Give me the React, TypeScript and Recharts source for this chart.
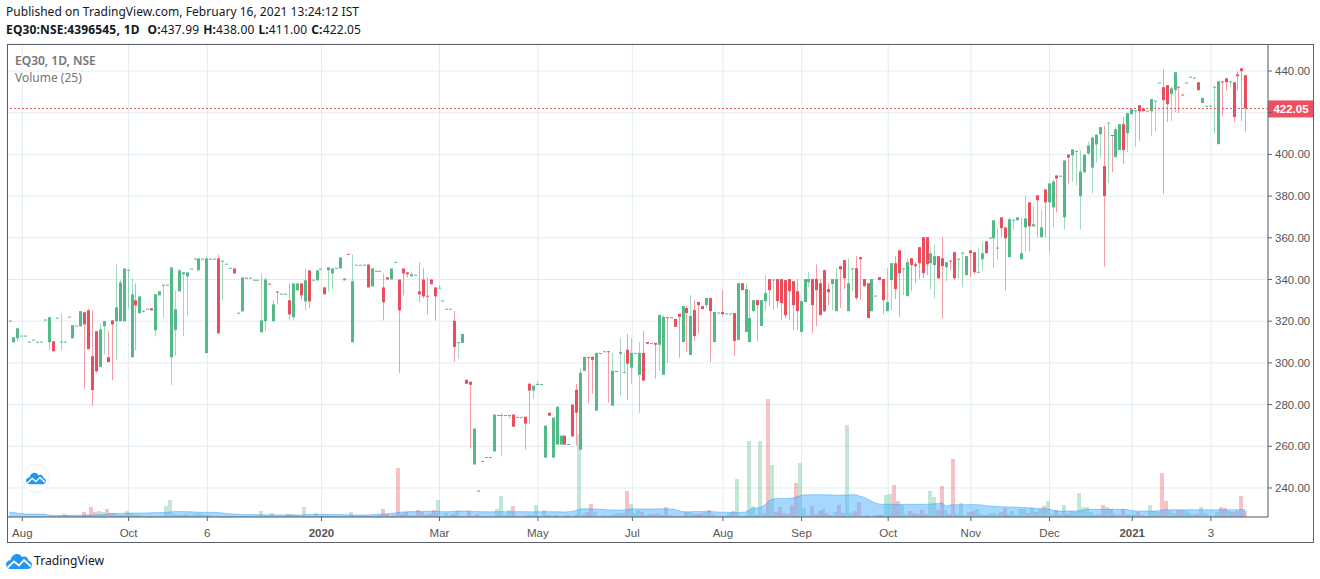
import React from "react";
import { ComposedChart, Bar, Area, XAxis, YAxis, CartesianGrid, ReferenceLine } from "recharts";

const opens = [
320.3,309.9,311.8,313.1,313.1,310.2,311.2,310.2,310.2,320.8,
309.9,310.4,321.7,310.2,310.2,322.2,311.8,317.9,317.6,324.3,
325.2,303.2,315.2,298,317.6,302.7,320.4,320,320,320,
344.7,302.7,330,323.8,325.1,326,326.2,315.7,332.4,337.5,
337.5,302.7,315.7,334.3,342.5,341.5,345.2,350,344.4,350,
304.7,350,350,350.1,349,347.6,345.6,345.3,324.1,324.8,
340.9,340.9,339.9,339.9,314.7,320,338,320,334.2,333.2,
333.2,330,321.9,334.8,338.1,329.5,344.4,339.9,339.6,345.2,
336.2,344.4,342.9,345.6,345.3,339.6,352.3,309.9,347.1,347.1,
347.1,347.2,336.7,344.2,344.2,336.2,341,340,348.5,340,
345.3,343.4,341.5,342.3,334.3,340,332.2,340,336.2,336.1,
329.9,326,326,320.2,310,309.6,291.9,291,251.3,238.8,
253,254.9,254.9,257.5,275,275,275,275,275.2,274.1,
274.1,274.2,290,286.7,289.9,289.9,254.6,276.1,254.6,260.8,
260.8,265.1,261.1,280,287.1,258.4,296.2,302.8,302.9,277.1,
304.7,305.6,305.6,279.5,296.1,304.4,295.6,306.3,297.7,304.7,
294.3,304.8,310,309.5,309.6,308.7,294.3,321.9,321.9,321.1,
323.5,310,326.3,303.8,325.3,329.2,327.2,327.7,331.1,310,
324.2,324.4,323.7,323.7,323.9,311,338.2,314.8,310,324.8,
330.1,317.7,329.6,340.2,340,340.2,340.2,339.7,340.2,339.2,
334.4,314.8,329.2,338.7,340.2,340.2,338.2,344.5,335.4,337.8,
324.8,346.4,349.3,324.8,345.3,345.4,350.7,340.2,338.2,324.8,
332.3,341.1,340.2,324.8,339.7,347.8,354,345.3,332,350.2,
347.3,355.5,360.3,360.3,347.8,346.9,351.2,350.2,345.9,349.1,
353.1,350,352.9,342.1,354,353.1,343.7,349.7,358.3,360.1,
359.8,355.3,369.8,365,350.7,368.7,368.4,349.7,365,377,
365.5,380.4,360.3,383.2,377,374.6,389.9,389.8,369.8,399.9,
399.5,401.7,379.9,391.4,400.4,393.7,404.8,409.7,394.4,415.3,
409.3,398.7,402.1,414.5,410.2,419.3,421.2,423.6,422,421,
420.7,425.8,434.5,432.2,433.2,428.9,430.8,432.5,428.7,434.5,
437.3,436.8,434.6,424.6,423.4,423.4,432.5,404.9,435,436.5,
435,434.6,438.4,441.3,437.99];

const closes = [
320.3,312.3,316.6,313.1,313.1,310.2,311.2,310.2,310.2,320.8,
321.9,305.6,321.7,310.2,310.2,322.2,318.1,317.9,324.8,318.5,
306.6,287,296,316.1,320,300.4,318.5,326.7,338.6,345.3,
344.7,332.9,327.6,331.9,325.1,326,325.2,332.9,334.3,337.5,
337.5,345.8,325.7,344.4,343.4,343.4,345.2,350,350.1,350,
350.1,350,350,314.2,349,347.6,345.6,342.9,324.1,341,
340.8,340.9,339.9,339.9,320.4,340,337.9,328.1,334.1,333.2,
333.2,323.3,338.1,338.1,332.4,339.6,329.5,339.9,344.4,345.2,
332.9,345.8,345.3,345.6,350.6,340.5,352.2,339.1,347.1,347.1,
347.1,336.2,345.3,344.2,344.2,329.1,340,345.3,348.5,325.2,
342.9,342.5,342.5,342.3,332.9,331.9,332.1,337.7,331.9,336.1,
329.9,326,326,307.7,310,313.9,290,289.5,268.5,238.7,
253,254.9,254.9,275.2,275,275,275,275,269.4,274.1,
274.1,270.9,286.7,289.1,289.9,289.9,269.9,274.7,273.7,279,
265.1,260.8,261.1,264.7,276.1,295.3,302.9,302.7,301.5,304.8,
304.7,305.6,305.5,296.2,296.1,305.3,295.6,299.6,304.8,304.7,
304.8,291.5,309.2,309.5,308.7,323,322.1,321.8,321.9,317.3,
322.1,327.2,323.9,322.5,312.9,327.7,325.8,331.1,324.8,324.4,
324.2,323.4,323.7,323.7,310.5,338.2,334.9,335.4,321.5,330.1,
327.7,330.1,333.5,334.9,340,329.6,328.7,322.9,334.4,327.7,
324.8,329.6,340.2,340.2,327.7,334.9,322.9,324.8,333.9,340.2,
340.2,344.9,340.6,338.2,345.3,331.1,349.7,336.8,321.5,340.2,
332.3,339.7,330.1,329.2,347.8,335.4,343,345.3,348.3,346.9,
346.4,347.8,343,347.3,352.6,351.2,340.6,346.4,348.3,349,
340.6,350,352.9,351.2,352.6,343.5,343.7,352.6,352.6,360.1,
368.4,355.3,364.6,359.8,368.9,368.7,369.8,352.6,369.3,365.5,
366.5,378,365,377,386.1,387,388.5,389.8,397.1,398.5,
402.4,401.7,391.8,399.9,404.3,408.1,409.5,413.1,380.1,415.3,
409.2,412.1,414.5,402.1,419.8,421.7,421.2,420.7,420.7,421,
426.5,425.8,434.5,426,424.1,431.7,439.4,432.4,428.6,434.5,
437.3,436.8,430.8,427,423.4,423.4,432.5,435.1,434.9,434.6,
435,417.9,437.5,439.9,422.05];

const highs = [
320.3,312.3,316.6,313.1,313.1,310.2,311.2,310.2,310.2,320.8,
321.9,310.4,321.7,323.6,310.2,322.2,318.1,317.9,324.8,324.3,
326.2,325.2,315.2,319,320,315.2,320.4,347.2,339.9,345.3,
344.7,340.5,338.1,331.9,325.1,326,326.2,332.9,334.3,337.5,
337.5,345.8,334.8,344.9,343.4,343.4,345.2,350.4,350.1,350,
351.1,350,350,352,349,347.6,345.6,345.3,324.1,341,
340.9,340.9,339.9,339.9,342.9,341,338,330,334.2,333.2,
333.2,338.1,338.1,338.1,338.1,345.3,344.4,339.9,344.4,345.2,
336.2,345.8,345.3,345.6,350.6,340.5,352.3,352,347.1,347.1,
347.1,347.2,345.3,344.2,344.2,342.9,341,345.3,348.5,340,
345.3,343.4,343.4,342.3,348.2,345.3,341,340,336.2,337.2,
329.9,326,326,325,310,313.9,291.9,291,268.5,238.8,
253,254.9,254.9,275.2,275,276.1,275,275,275.2,274.1,
274.1,274.2,290.5,289.1,291,289.9,269.9,276.1,274.2,279,
265.1,265.1,261.1,280,290,297.2,302.9,302.8,302.9,304.8,
304.7,305.6,305.6,304.8,296.1,312,304.8,313.9,312,304.7,
310,315.4,310,309.5,309.6,323,323,321.9,321.9,321.1,
323.5,327.2,327.2,332.5,330.1,329.2,327.2,331.1,331.1,324.4,
324.2,334.9,323.7,323.7,323.9,338.7,338.2,338.2,334.9,330.1,
330.1,330.1,342.1,340.2,340,340.2,340.2,339.7,340.2,339.2,
340.2,330.1,340.2,343.5,340.2,347.3,340.2,344.5,338.2,340.2,
345.4,346.4,349.3,350.2,345.3,351.2,350.7,340.2,338.2,340.2,
332.3,341.1,340.2,345.4,347.8,351.2,354,345.3,350.2,350.2,
348.3,355.5,360.3,360.3,355.5,356.9,351.2,360.3,348.3,349.1,
353.1,350,352.9,351.2,354,353.1,355,357.9,358.3,360.1,
368.4,365,369.8,365,369.8,368.7,369.8,369.8,380.4,377,
375.1,380.4,373.2,383.2,386.1,388,389.9,389.8,397.1,399.9,
402.4,401.7,401.9,399.9,406.2,408.6,409.5,413.1,413.6,415.3,
409.3,413.1,414.5,417.9,419.8,421.7,421.2,423.6,422,421,
426.5,425.8,434.5,440.8,433.2,432.7,439.4,432.5,428.7,434.5,
437.3,436.8,434.6,427.4,423.4,423.4,432.5,435.1,435,436.5,
435,434.6,439.9,441.3,438];

const lows = [
320.3,309.9,310.4,313.1,313.1,310.2,311.2,310.2,310.2,320.8,
306.1,305.6,321.7,306.1,310.2,322.2,311.8,317.9,317.6,287.4,
306.6,279.3,295.1,298,304.2,300.4,291.7,301.3,320,320,
326.2,302.7,306.1,323.8,324.1,326,325.2,312.8,332.4,321.4,
337.5,289.3,303.2,334.3,312.8,322.8,345.2,350,344.4,350,
304.7,350,350,314.2,330,347.6,345.6,342.9,324.1,324.3,
340.8,340.9,339.9,339.9,314.7,315.2,337.9,320,328.1,333.2,
333.2,320.9,320.4,334.8,330,325.2,326.2,339.9,339.6,345.2,
332.9,334.3,335.3,345.6,345.3,339.6,352.2,309.9,347.1,347.1,
347.1,336.2,336.7,344.2,344.2,320.4,340,340,348.5,295.1,
332.4,341,341.5,342.3,329.1,331,323.3,337.7,320.4,336.1,
329.9,326,326,300.6,302,309.6,290,258.9,251.3,238.7,
253,254.9,254.9,257.5,275,255.1,275,273.3,269.4,274.1,
274.1,258.4,270.9,282.8,289.9,289.9,254.6,274.7,254.6,260.8,
260.8,260.8,261.1,264.7,260.4,258.4,296.2,280.9,285.2,277.1,
304.7,305.6,280.9,279.5,296.1,284.3,295.6,282.4,290,304.7,
276.1,291.5,309.2,309.5,292.4,296.2,294.3,300.1,321.9,317.3,
302.5,310,305.2,303.8,310.5,314.3,325.8,326.3,300.4,310,
324.2,322.5,323.7,323.7,303.3,311,334.9,314.8,310,324.8,
310.5,317.7,325.3,327.2,325.3,326.3,320.5,321.5,320.5,315.8,
315.8,314.8,329.2,336.3,314.3,317.7,322.9,324.4,327.7,325.3,
324.8,326.3,335.4,324.8,334.4,330.1,330.1,336.8,321.5,324.8,
332.3,339.7,323.4,324.8,325.3,330.6,322,332.5,332,334.4,
338.2,340.2,340.6,342.1,335.4,331.1,340.2,321.5,339.2,344.5,
339.7,340.6,336.3,342.1,341.1,342.6,343.7,344.5,352.6,359.3,
345.4,349.3,360.3,334.9,350.7,364.1,368.4,349.7,353.6,353.6,
365.5,360.3,360.3,360.3,353.1,365,372.2,389.8,364.1,386.1,
387,385.1,364.1,391.4,399.9,381.3,396.1,398.2,346.1,386.3,
391.5,398.7,402.1,395.4,401.1,419.3,403.5,406.4,420.7,421,
408.8,411.2,434.5,381,415.5,415.9,420.3,419.8,428.6,434.5,
437.3,436.8,430.8,424.6,423.4,423.4,410.2,404.9,418.3,430.8,
432.2,415.5,430.8,415.9,411];

const volumes = [
1,1,1,0.5,0.5,0.5,0.5,0.5,0.5,0.5,
1,0.5,0.5,1.5,3.5,2,1,1,1,5,
2,10,5,6,5,8,4,4,2,2,
6,4,2,2,1,1,1,1,1,1,
11,17,3,2,2,3,2,3,4,3,
2,2,1,1,1,1,1,1,1,1,
1,1,1,1,6,1,1,4,1,1,
1,3,3,2,1,10,1,1,4,1,
1,1,1,1,1,1,1,5,1,1,
2,1,1,1,2,8,3,1,2,49,
3,5,2,2,7,5,2,3,7,17,
1,4,1,3,6,1,1,6,1,3,
1,1,1,1,8,21,2,7,11,1,
1,1,2,2,12,1,7,2,1,2,
1,1,2,1,2,83,3,5,13,5,
1,2,1,2,3,4,4,26,13,4,
7,5,2,3,3,4,2,10,2,1,
1,1,5,5,3,3,3,5,7,3,
1,1,1,4,6,38,1,1,76,11,
2,76,4,118,52,5,10,4,3,12,
34,54,9,2,11,3,6,8,4,2,
5,12,4,92,4,6,15,1,2,1,
2,2,2,22,23,32,16,12,3,6,
4,3,7,3,26,20,7,31,7,3,
58,3,14,2,5,6,8,3,2,3,
4,3,5,9,3,6,2,8,8,4,
9,5,8,11,16,3,7,3,12,3,
6,5,24,10,10,5,2,3,12,10,
8,3,2,8,3,2,3,5,2,1,
12,6,5,44,16,6,4,7,7,6,
4,3,3,10,4,2,1,5,10,9,
6,5,6,21,6];

const volumeMA = [
5,4.5,4,3.5,3,3,3,3,3,3,
2,1.5,1.5,1.5,1.5,1.5,1.6,1.7,1.8,2,
2,2.1,2.2,2.3,2.5,3,3.5,3.6,3.6,3.7,
3.8,3.9,4,4,4,4.1,4.2,4.3,4.4,4.5,
4.7,5,5.5,5.5,5.4,5.3,5.2,5,4.8,4.7,
4.7,4.7,4.6,4.4,4,3.6,3.2,3,2.8,2.6,
2.5,2.5,2.4,2.3,2.3,2.2,2.2,2.2,2.1,2.1,
2,2,2,2,2,2.2,2.4,2.5,2.6,2.7,
2.7,2.7,2.6,2.5,2.4,2.3,2.2,2.1,2,2,
2,2,2.2,2.5,2.8,3,3.3,3.6,4,4.7,
5,5.2,5.4,5.5,5.7,5.7,5.7,5.7,5.6,5.5,
5.3,5.3,5.4,5.8,6,6,6,5.8,5.6,5.4,
5.3,5.2,5.2,5.2,5.3,5.4,5.3,5.2,5.2,5.3,
5.3,5.3,5.2,5.2,5.3,5.3,5.3,5.3,5.3,5.2,
5.2,5,5.2,5.6,6.5,8,8.2,8.2,8,8,
7.8,7.5,7.2,7,7,7,7,7.5,8,8.2,
8,8,8,8,8,8.2,8.2,8,8,7.8,
6.5,5.5,5.2,5.3,5.4,5.4,5.4,5.4,5.4,5.2,
5,4.8,4.8,4.5,4.5,4.3,4.8,5,7,9,
9,10,12,16,18,18.5,18.5,18.5,18.5,19,
20,21.5,22,22.2,22.3,22.3,22.3,22.2,22.2,22,
21.8,21.8,22,22,22.2,22.3,21,20,18,16,
14,13,12.7,12.7,12.7,12.7,12.7,12.7,12.7,12.7,
12.7,12.7,12.7,12.8,13,13.2,13.5,14,11,12,
12.3,12.3,12.3,12.3,12.4,12.4,12.3,12,11.5,11,
10.8,10.5,10.3,10.2,10,10,9.8,9.6,9.4,9.2,
9,8.8,8.6,8.3,8,7,6,6,6,6,
6,6,6.2,7,7.7,7.7,7.7,7.7,7.7,7.7,
7.7,7.7,7.7,7.7,7.5,6.5,6,6,6,6,
6,6,6.2,7,7.3,7.3,7.3,7.3,7.3,7.2,
7.2,7.2,7.2,7.2,7.2,7.2,7.2,7.2,7.2,7.2,
7.3,7.3,7.3,7.5,7.3];

const tickBars = [3, 30, 50, 79, 109, 134, 158, 181, 201, 223, 244, 264, 285, 305];
const tickLabels = ["Aug", "Oct", "6", "2020", "Mar", "May", "Jul", "Aug", "Sep", "Oct", "Nov", "Dec", "2021", "3"];
const yearLabels = ["2020", "2021"];
const priceTicks = [240, 260, 280, 300, 320, 340, 360, 380, 400, 420, 440];
const lastPrice = 422.05;

const GREEN = "#53b987";
const RED = "#eb4d5c";
const AXIS = "#5d606b";
const GRID = "#e1ecf2";
const TEXT = "#555555";

const rows = opens.map((o, i) => ({
  i,
  open: o,
  close: closes[i],
  high: highs[i],
  low: lows[i],
  volume: volumes[i],
  ma: volumeMA[i],
}));

const rangeKey = (d: any) => [d.low, d.high];
const tickValues = tickBars.map((b) => b + 0.3);

const Candle = (p: any) => {
  const { x, width, y, height, payload } = p;
  const { open, close, high, low } = payload;
  const color = close >= open ? GREEN : RED;
  const cx = Math.floor(x + width / 2);
  const k = high > low ? height / (high - low) : 0;
  const top = y + (high - Math.max(open, close)) * k;
  const bot = y + (high - Math.min(open, close)) * k;
  return (
    <g>
      {height > 0.5 && <rect x={cx} y={y} width={1} height={height} fill={color} fillOpacity={0.55} />}
      <rect x={cx - 1} y={top} width={3} height={Math.max(1, bot - top)} fill={color} />
    </g>
  );
};

const VolumeBar = (p: any) => {
  const { x, width, y, height, payload } = p;
  const color = payload.close >= payload.open ? GREEN : RED;
  const cx = Math.floor(x + width / 2);
  return <rect x={cx - 1} y={y} width={4} height={height} fill={color} fillOpacity={0.35} />;
};

const XTick = (p: any) => {
  const label = tickLabels[tickValues.indexOf(p.payload.value)];
  return (
    <text
      x={p.x}
      y={p.y + 14}
      textAnchor="middle"
      fontFamily="'Liberation Sans', Arial, sans-serif"
      fontSize={11.5}
      fontWeight={yearLabels.includes(label) ? 700 : 400}
      fill={TEXT}
    >
      {label}
    </text>
  );
};

const PriceTag = (p: any) => {
  const { viewBox } = p;
  const right = viewBox.x + viewBox.width;
  return (
    <g>
      <rect x={right} y={viewBox.y - 8} width={46} height={17} fill="#ef5060" />
      <text
        x={right + 23}
        y={viewBox.y + 4.5}
        textAnchor="middle"
        fontFamily="'Liberation Sans', Arial, sans-serif"
        fontSize={11.5}
        fontWeight={700}
        fill="#ffffff"
      >
        {lastPrice.toFixed(2)}
      </text>
    </g>
  );
};

const Cloud = ({ size }: { size: number }) => (
  <svg width={size} height={(size * 16) / 26} viewBox="0 0 26 16" style={{ display: "block" }}>
    <path
      d="M5 16 C1.5 16 0 13.5 0 11.5 C0 9 2 7.2 4.4 7.2 C5.4 3.5 8 1 11 1 C13.6 1 15 2.5 16.2 4.2 C17 3.6 18 3.4 19 3.6 C21 4 22.2 5.6 22.4 7.6 C24.6 8.2 26 10 26 12 C26 14.4 24 16 21.6 16 Z"
      fill="#2196f3"
    />
    <path d="M1.5 14.5 L8 8.5 L13 12.5 L18 7 L25 13.5" fill="none" stroke="#ffffff" strokeWidth={1.8} />
  </svg>
);

const headFont = "'Noto Sans', sans-serif";

export default function App() {
  return (
    <div style={{ position: "absolute", left: 0, top: 0, width: 1320, height: 579, background: "#fff", overflow: "hidden" }}>
      <div style={{ position: "absolute", left: 6, top: 3, font: `12px ${headFont}`, letterSpacing: 0.03, color: "#131722", whiteSpace: "nowrap" }}>
        Published on TradingView.com, February 16, 2021 13:24:12 IST
      </div>
      <div style={{ position: "absolute", left: 6, top: 21, font: `12px ${headFont}`, letterSpacing: 0.16, wordSpacing: 0.6, color: "#131722", whiteSpace: "nowrap" }}>
        <b>EQ30:NSE:4396545, 1D&nbsp; O:</b>437.99 <b>H:</b>438.00 <b>L:</b>411.00 <b>C:</b>422.05
      </div>

      <div style={{ position: "absolute", left: 0, top: 0 }}>
        <ComposedChart
          width={1320}
          height={579}
          data={rows}
          margin={{ top: 44, right: 0, bottom: 36, left: 7 }}
          barGap={0}
        >
          <CartesianGrid stroke={GRID} xAxisId="time" yAxisId="price" />
          <XAxis
            xAxisId="time"
            type="number"
            dataKey="i"
            domain={[-0.592, 319.8]}
            allowDataOverflow
            ticks={tickValues}
            interval={0}
            height={26}
            tick={<XTick />}
            tickSize={4}
            tickLine={{ stroke: AXIS }}
            axisLine={{ stroke: AXIS }}
          />
          <YAxis
            yAxisId="price"
            orientation="right"
            width={52}
            domain={[226.09, 452.95]}
            allowDataOverflow
            ticks={priceTicks}
            interval={0}
            tickFormatter={(v: number) => (v === 420 ? "" : v.toFixed(2))}
            tick={{ fill: TEXT, fontSize: 11.5, fontFamily: "'Liberation Sans', Arial, sans-serif" }}
            tickSize={4}
            tickMargin={3}
            tickLine={{ stroke: AXIS }}
            axisLine={{ stroke: AXIS }}
          />
          <YAxis yAxisId="vol" hide domain={[0, 473]} allowDataOverflow />
          <Bar
            xAxisId="time"
            yAxisId="vol"
            dataKey="volume"
            barSize={4}
            shape={<VolumeBar />}
            zIndex={300}
            isAnimationActive={false}
          />
          <Area
            xAxisId="time"
            yAxisId="vol"
            dataKey="ma"
            type="linear"
            fill="#4db0ff"
            fillOpacity={0.5}
            stroke="#2196f3"
            strokeOpacity={0.4}
            dot={false}
            activeDot={false}
            zIndex={350}
            isAnimationActive={false}
          />
          <Bar
            xAxisId="time"
            yAxisId="price"
            dataKey={rangeKey}
            barSize={3}
            shape={<Candle />}
            zIndex={400}
            isAnimationActive={false}
          />
          <ReferenceLine
            xAxisId="time"
            yAxisId="price"
            y={lastPrice}
            stroke="#ef5060"
            strokeDasharray="2 2"
            label={<PriceTag />}
          />
        </ComposedChart>
      </div>

      <div style={{ position: "absolute", left: 6.5, top: 43.5, width: 1307, height: 499, border: `1px solid ${AXIS}`, boxSizing: "border-box", pointerEvents: "none" }} />

      <div style={{ position: "absolute", left: 15, top: 52, font: `600 12px ${headFont}`, color: "#757575", whiteSpace: "nowrap" }}>EQ30, 1D, NSE</div>
      <div style={{ position: "absolute", left: 15, top: 69, font: `12px ${headFont}`, color: "#757575", whiteSpace: "nowrap" }}>Volume (25)</div>

      <div style={{ position: "absolute", left: 21, top: 464, width: 29, height: 29, borderRadius: "50%", background: "#fff", border: "1px solid #eceff2", boxSizing: "border-box", display: "flex", alignItems: "center", justifyContent: "center" }}>
        <Cloud size={20} />
      </div>

      <div style={{ position: "absolute", left: 6, top: 553 }}>
        <Cloud size={26} />
      </div>
      <div style={{ position: "absolute", left: 34, top: 552, font: `12.2px ${headFont}`, color: "#131722", whiteSpace: "nowrap" }}>TradingView</div>
    </div>
  );
}
